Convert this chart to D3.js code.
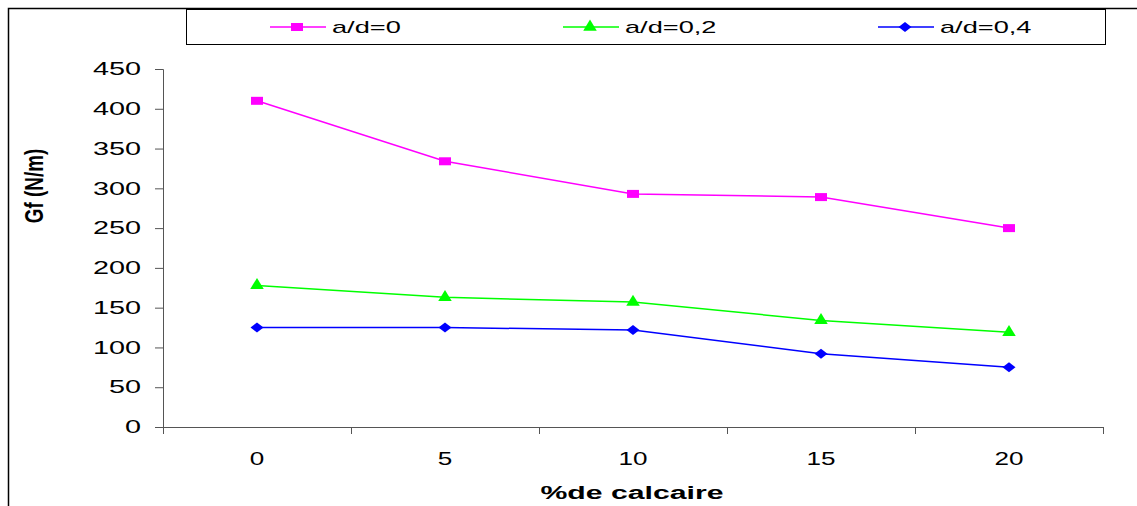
<!DOCTYPE html>
<html><head><meta charset="utf-8">
<script src="https://cdn.jsdelivr.net/npm/d3@7"></script>
<style>body{margin:0;background:#fff}svg{display:block;font-family:"Liberation Sans",Arial,sans-serif}</style>
</head><body><svg id="c" width="1137" height="506"></svg>
<script>
const categories = ["0","5","10","15","20"];
const seriesNames = ["a/d=0","a/d=0,2","a/d=0,4"];
const ad0 = [410, 334, 293, 289, 250];
const ad02 = [178, 163, 157, 134, 119];
const ad04 = [125, 125, 122, 92, 75];
const yTicks = [0,50,100,150,200,250,300,350,400,450];
const colors = ["#FF00FF","#00FF00","#0000FF"];
const series = [ad0, ad02, ad04];

const SX = 1.6; // horizontal stretch of the original picture
const svg = d3.select("#c");
svg.append("path").attr("d","M8.5,506 V8.5 H1137").attr("fill","none").attr("stroke","#000").attr("stroke-width",1.5);

const x = d3.scaleBand().domain(categories).range([163,1103]);
const y = d3.scaleLinear().domain([0,450]).range([427,69]);

// marker drawers
const markers = [
  sel => sel.attr("d", d3.symbol().type(d3.symbolSquare).size(64)).attr("data-t","scale(1.5,1)"),
  sel => sel.attr("d", d3.symbol().type(d3.symbolTriangle).size(72)).attr("data-t","scale(1.05,1)"),
  sel => sel.attr("d", d3.symbol().type(d3.symbolSquare).size(50)).attr("data-t","scale(1.3,1) rotate(45)")
];

const xAxis = svg.append("g").attr("transform","translate(0,427)")
  .call(d3.axisBottom(x).tickSize(0).tickPadding(0));
xAxis.select(".domain").attr("stroke","#555");
xAxis.selectAll("text").attr("font-size",18).attr("fill","#000").attr("dy",null).attr("y",null)
  .attr("transform",`translate(0,38) scale(1.45,1)`);
const bounds = categories.map(c=>x(c)).concat([x.range()[1]]);
svg.append("g").selectAll("line").data(bounds).join("line")
  .attr("x1",d=>d+0.5).attr("x2",d=>d+0.5).attr("y1",427).attr("y2",434).attr("stroke","#555");

const yAxis = svg.append("g").attr("transform","translate(163,0)")
  .call(d3.axisLeft(y).tickValues(yTicks).tickSize(8).tickPadding(0));
yAxis.selectAll("line,.domain").attr("stroke","#555");
yAxis.selectAll("text").attr("font-size",18).attr("fill","#000").attr("x",null)
  .attr("transform",`translate(-22,0) scale(${SX},1)`);

svg.append("text").attr("transform","translate(632,499) scale(1.68,1)").attr("text-anchor","middle")
  .attr("font-weight","bold").attr("font-size",18).text("%de calcaire");
svg.append("text").attr("transform","translate(43,186) scale(1.6,1.18) rotate(-90)").attr("text-anchor","middle")
  .attr("font-weight","bold").attr("font-size",16).text("Gf (N/m)");

const line = d3.line().x((d,i)=>x(categories[i])+x.bandwidth()/2).y(d=>y(d));
series.forEach((s,k)=>{
  svg.append("path").datum(s).attr("d",line).attr("fill","none").attr("stroke",colors[k]).attr("stroke-width",1.5);
  const m = svg.append("g").selectAll("path").data(s).join("path").attr("fill",colors[k]);
  markers[k](m);
  m.attr("transform",(d,i)=>`translate(${x(categories[i])+x.bandwidth()/2},${y(d)}) ${m.attr("data-t")}`);
});

const lg = svg.append("g");
lg.append("rect").attr("x",186.5).attr("y",9.5).attr("width",919).attr("height",35).attr("fill","#fff").attr("stroke","#000");
const lx = [270, 563, 878];
seriesNames.forEach((n,k)=>{
  lg.append("line").attr("x1",lx[k]).attr("x2",lx[k]+56).attr("y1",27).attr("y2",27).attr("stroke",colors[k]).attr("stroke-width",1.5);
  const m = lg.append("path").attr("fill",colors[k]);
  markers[k](m);
  m.attr("transform",`translate(${lx[k]+27},27) ${m.attr("data-t")}`);
  lg.append("text").attr("transform",`translate(${lx[k]+62},33) scale(${SX},1)`).attr("font-size",17).text(n);
});
</script></body></html>
